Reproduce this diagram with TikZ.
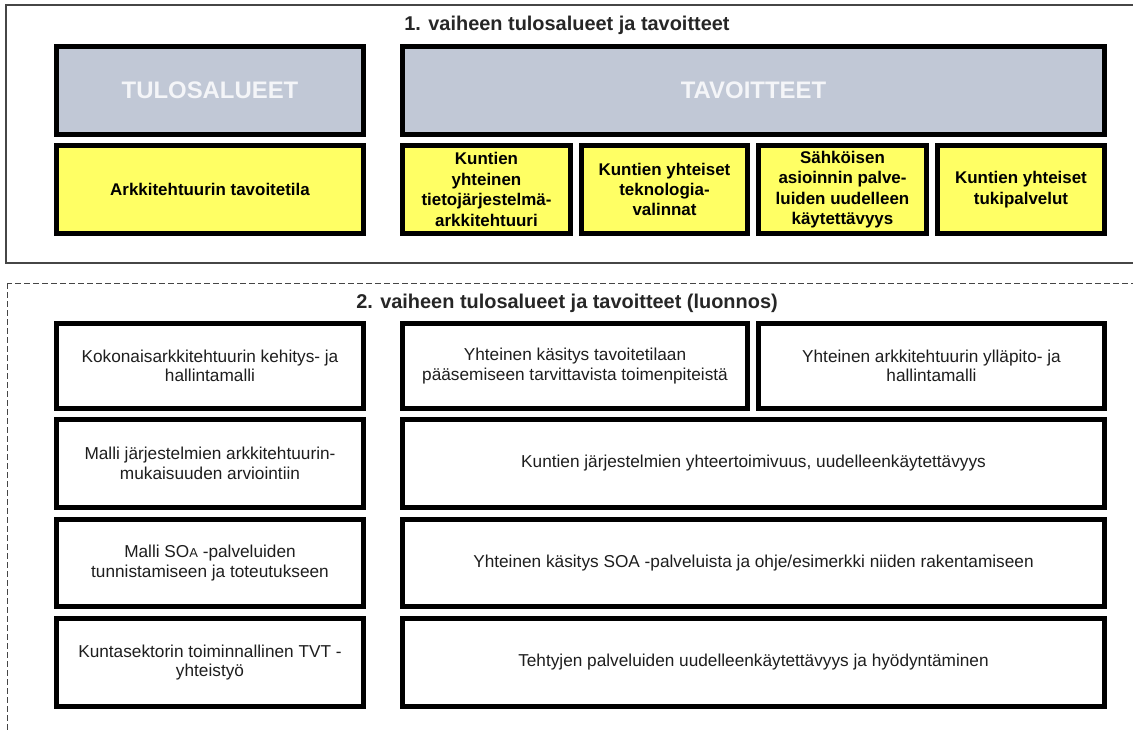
\documentclass[tikz,border=0pt]{standalone}
\usepackage{fontspec}
\setmainfont{Liberation Sans}
\definecolor{hdrfill}{RGB}{193,200,214}
\definecolor{hdrtext}{RGB}{244,245,248}
\definecolor{goalfill}{RGB}{255,255,100}
\definecolor{framegray}{RGB}{70,70,70}
\definecolor{bodytext}{RGB}{30,30,30}
\tikzset{
  cellbox/.style={draw=black, line width=5bp, inner sep=0pt, outer sep=0pt, align=center},
  hdrcell/.style={cellbox, fill=hdrfill, text=hdrtext, font=\fontsize{24}{28}\selectfont\bfseries},
  goalcell/.style={cellbox, fill=goalfill, text=black, font=\fontsize{17}{20.5}\selectfont\bfseries},
  plaincell/.style={cellbox, fill=white, text=bodytext, font=\fontsize{17.3}{19.5}\selectfont},
  phasetitle/.style={anchor=base, font=\fontsize{20}{24}\selectfont\bfseries, text=black!85, inner sep=0pt},
  phaseframe/.style={draw=framegray, line width=1.5bp},
  draftframe/.style={draw=framegray, line width=1bp, dash pattern=on 6bp off 3bp},
}
% \cell{name}{style}{x1}{y1}{x2}{y2}{text}: box given by its outer edges
\newcommand\cell[7]{\node[#2, minimum width={(#5-#3-5)*1bp}, minimum height={(#6-#4-5)*1bp}] (#1) at ({(#3+#5)/2},{(#4+#6)/2}) {#7};}
\begin{document}
\begin{tikzpicture}[x=1bp,y=-1bp]
\useasboundingbox (0,0) rectangle (1133,731);
\clip (0,0) rectangle (1133,731);

% phase frames
\draw[phaseframe] (6,5) rectangle (1145,263);
\draw[draftframe] (7,283) rectangle (1145,745);

% phase 1
\node[phasetitle] (t1) at (567,31) {1. vaiheen tulosalueet ja tavoitteet};
\cell{hdrL}{hdrcell}{54}{44}{366}{137}{TULOSALUEET}
\cell{hdrR}{hdrcell}{400}{44}{1107}{137}{TAVOITTEET}
\cell{goalA}{goalcell}{54}{143}{366}{236}{Arkkitehtuurin tavoitetila}
\cell{goal1}{goalcell}{400}{143}{573}{236}{Kuntien\\yhteinen\\tietojärjestelmä-\\arkkitehtuuri}
\cell{goal2}{goalcell}{579}{143}{750}{236}{Kuntien yhteiset\\teknologia-\\valinnat}
\cell{goal3}{goalcell}{756}{143}{929}{236}{Sähköisen\\asioinnin palve-\\luiden uudelleen\\käytettävyys}
\cell{goal4}{goalcell}{935}{143}{1107}{236}{Kuntien yhteiset\\tukipalvelut}

% phase 2 (draft)
\node[phasetitle] (t2) at (567,308) {2. vaiheen tulosalueet ja tavoitteet (luonnos)};
\cell{r1L}{plaincell}{54}{321}{366}{411}{Kokonaisarkkitehtuurin kehitys- ja\\hallintamalli}
\cell{r1A}{plaincell}{400}{321}{750}{411}{Yhteinen käsitys tavoitetilaan\\pääsemiseen tarvittavista toimenpiteistä}
\cell{r1B}{plaincell}{756}{321}{1107}{411}{Yhteinen arkkitehtuurin ylläpito- ja\\hallintamalli}
\cell{r2L}{plaincell}{54}{417}{366}{510}{Malli järjestelmien arkkitehtuurin-\\mukaisuuden arviointiin}
\cell{r2R}{plaincell}{400}{417}{1107}{510}{Kuntien järjestelmien yhteertoimivuus, uudelleenkäytettävyys}
\cell{r3L}{plaincell}{54}{517}{366}{609}{Malli SO{\fontsize{13}{15}\selectfont A} -palveluiden\\tunnistamiseen ja toteutukseen}
\cell{r3R}{plaincell}{400}{517}{1107}{609}{Yhteinen käsitys SOA -palveluista ja ohje/esimerkki niiden rakentamiseen}
\cell{r4L}{plaincell}{54}{616}{366}{709}{Kuntasektorin toiminnallinen TVT -\\yhteistyö}
\cell{r4R}{plaincell}{400}{616}{1107}{709}{Tehtyjen palveluiden uudelleenkäytettävyys ja hyödyntäminen}
\end{tikzpicture}
\end{document}
